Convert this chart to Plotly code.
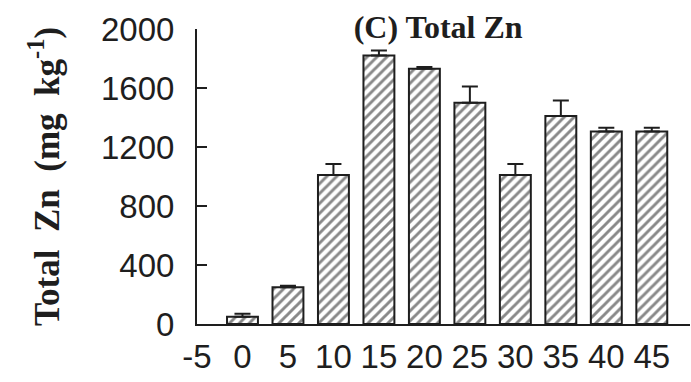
import plotly.graph_objects as go

# Total Zn by sampling position
positions = [0, 5, 10, 15, 20, 25, 30, 35, 40, 45]
total_zn = [50, 250, 1010, 1820, 1730, 1500, 1010, 1410, 1305, 1305]
zn_err = [20, 10, 75, 35, 12, 110, 75, 105, 25, 25]

x_tickvals = [-5, 0, 5, 10, 15, 20, 25, 30, 35, 40, 45]
x_ticktext = ["-5", "0", "5", "10", "15", "20", "25", "30", "35", "40", "45"]
y_tickvals = [0, 400, 800, 1200, 1600, 2000]

ink = "#1e1e1e"
sans = "Liberation Sans, Arial, sans-serif"
serif = "Liberation Serif, Times New Roman, serif"

fig = go.Figure(
    go.Bar(
        x=positions,
        y=total_zn,
        width=3.4,
        marker=dict(
            color="white",
            line=dict(color=ink, width=2),
            pattern=dict(shape="/", size=7, solidity=0.42,
                         fgcolor="#111111", bgcolor="white"),
        ),
        error_y=dict(type="data", symmetric=False, array=zn_err,
                     arrayminus=[0] * len(zn_err),
                     color=ink, thickness=2, width=8),
    )
)

fig.update_layout(
    width=691,
    height=382,
    margin=dict(l=197, r=1, t=29, b=58),
    paper_bgcolor="white",
    plot_bgcolor="white",
    showlegend=False,
    title=dict(
        text="<b>(C) Total Zn</b>",
        font=dict(family=serif, size=32, color=ink),
        x=0.634, xanchor="center", xref="container",
        y=0.93, yanchor="middle", yref="container",
    ),
)

fig.update_xaxes(
    range=[-5, 49.2],
    tickvals=x_tickvals,
    ticktext=x_ticktext,
    ticks="",
    showgrid=False,
    zeroline=False,
    showline=True,
    linecolor=ink,
    linewidth=2,
    tickfont=dict(family=sans, size=33, color=ink),
    ticklabelstandoff=2,
)

fig.update_yaxes(
    range=[0, 2000],
    tickvals=y_tickvals,
    ticks="inside",
    ticklen=10,
    tickwidth=2,
    tickcolor=ink,
    showgrid=False,
    zeroline=False,
    showline=True,
    linecolor=ink,
    linewidth=2,
    tickfont=dict(family=sans, size=33, color=ink),
    ticklabelstandoff=14,
    title=dict(
        text="<b>Total\u00a0 Zn\u00a0 (mg\u00a0 kg<sup>-1</sup>)</b>",
        font=dict(family=serif, size=35, color=ink),
        standoff=31,
    ),
)

fig.write_html("out.html")
